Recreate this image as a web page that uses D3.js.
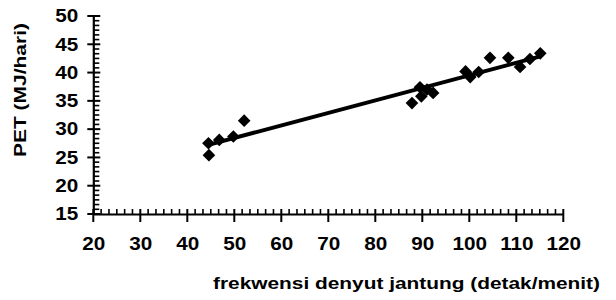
<!DOCTYPE html>
<html><head><meta charset="utf-8">
<script src="https://cdn.jsdelivr.net/npm/d3@7"></script>
<style>html,body{margin:0;padding:0;background:#fff;}svg{display:block;}</style>
</head><body>
<svg id="c" width="616" height="300"></svg>
<script>
// data
const heartRate = [44.6, 44.5, 46.8, 49.8, 52.1, 87.8, 89.5, 89.8, 91.0, 92.3, 99.2, 100.2, 102.0, 104.4, 108.3, 110.8, 112.9, 115.1];
const petValues = [25.4, 27.5, 28.1, 28.7, 31.5, 34.6, 37.4, 35.8, 37.0, 36.4, 40.2, 39.2, 40.1, 42.6, 42.6, 41.0, 42.4, 43.4];
const xTicks = [20, 30, 40, 50, 60, 70, 80, 90, 100, 110, 120];
const yTicks = [15, 20, 25, 30, 35, 40, 45, 50];
const minorPerMajor = 5;
const xTitle = "frekwensi denyut jantung (detak/menit)";
const yTitle = "PET (MJ/hari)";

const svg = d3.select("#c");
const x = d3.scaleLinear().domain([20, 120]).range([93.3, 563.3]);
const y = d3.scaleLinear().domain([15, 50]).range([214, 16]);
const font = "'Liberation Sans', Arial, Helvetica, sans-serif";

function minors(ticks) {
  const out = [];
  for (let i = 0; i < ticks.length - 1; i++) {
    const step = (ticks[i+1] - ticks[i]) / (minorPerMajor + 1);
    for (let k = 1; k <= minorPerMajor; k++) out.push(ticks[i] + k * step);
  }
  return out;
}

// X axis
const gx = svg.append("g").attr("transform", `translate(0,${y(15)})`);
gx.call(d3.axisBottom(x).tickValues(xTicks).tickSize(0).tickPadding(23).tickFormat(d3.format("d")));
gx.select(".domain").attr("stroke", "#000").attr("stroke-width", 2.2);
gx.selectAll(".tick text").attr("font-family", font).attr("font-weight", "bold").attr("font-size", 18).attr("fill", "#000")
  .attr("transform", "scale(1.15,1)");
gx.selectAll(".maj").data(xTicks).join("line")
  .attr("x1", d => x(d)).attr("x2", d => x(d)).attr("y1", -5).attr("y2", 8)
  .attr("stroke", "#000").attr("stroke-width", 2);
gx.selectAll(".min").data(minors(xTicks)).join("line")
  .attr("x1", d => x(d)).attr("x2", d => x(d)).attr("y1", -5).attr("y2", 0)
  .attr("stroke", "#000").attr("stroke-width", 1.6);

// Y axis
const gy = svg.append("g").attr("transform", `translate(${x(20)},0)`);
gy.call(d3.axisLeft(y).tickValues(yTicks).tickSize(0).tickPadding(13).tickFormat(d3.format("d")));
gy.select(".domain").attr("stroke", "#000").attr("stroke-width", 2.2);
gy.selectAll(".tick text").attr("font-family", font).attr("font-weight", "bold").attr("font-size", 18).attr("fill", "#000")
  .attr("transform", "scale(1.15,1)");
gy.selectAll(".maj").data(yTicks).join("line")
  .attr("x1", -6).attr("x2", 7).attr("y1", d => y(d)).attr("y2", d => y(d))
  .attr("stroke", "#000").attr("stroke-width", 2);
gy.selectAll(".min").data(minors(yTicks)).join("line")
  .attr("x1", 0).attr("x2", 6).attr("y1", d => y(d)).attr("y2", d => y(d))
  .attr("stroke", "#000").attr("stroke-width", 1.6);

// regression line (least squares from data)
const n = heartRate.length;
const mx = d3.mean(heartRate), my = d3.mean(petValues);
let sxy = 0, sxx = 0;
for (let i = 0; i < n; i++) { sxy += (heartRate[i]-mx)*(petValues[i]-my); sxx += (heartRate[i]-mx)**2; }
const slope = sxy / sxx, icpt = my - slope * mx;
const x0 = d3.min(heartRate), x1 = d3.max(heartRate);
svg.append("line")
  .attr("x1", x(x0)).attr("y1", y(icpt + slope*x0))
  .attr("x2", x(x1)).attr("y2", y(icpt + slope*x1))
  .attr("stroke", "#000").attr("stroke-width", 4);

// points (diamonds)
const sq = d3.symbol().type(d3.symbolSquare).size(80);
svg.selectAll(".pt").data(heartRate.map((h, i) => [h, petValues[i]])).join("path")
  .attr("d", sq)
  .attr("transform", d => `translate(${x(d[0])},${y(d[1])}) rotate(45)`)
  .attr("fill", "#000");

// titles
svg.append("text").attr("x", 213).attr("y", 289)
  .attr("textLength", 387).attr("lengthAdjust", "spacingAndGlyphs")
  .attr("font-family", font).attr("font-weight", "bold").attr("font-size", 17).attr("fill", "#000")
  .text(xTitle);
svg.append("text").attr("transform", "translate(26,157) rotate(-90)")
  .attr("textLength", 134).attr("lengthAdjust", "spacingAndGlyphs")
  .attr("font-family", font).attr("font-weight", "bold").attr("font-size", 17).attr("fill", "#000")
  .text(yTitle);
</script>
</body></html>
